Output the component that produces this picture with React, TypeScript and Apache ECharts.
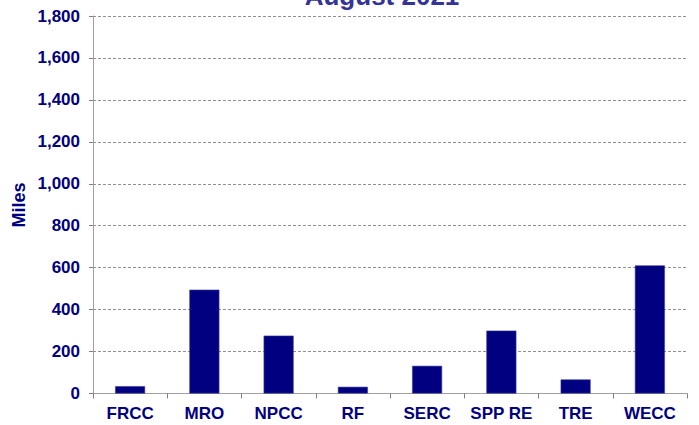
import React, { useEffect, useRef } from "react";
import * as echarts from "echarts";

const categories = ["FRCC", "MRO", "NPCC", "RF", "SERC", "SPP RE", "TRE", "WECC"];
const miles = [35, 495, 276, 32, 132, 300, 67, 611];
const titleText = "August 2021";
const yAxisTitle = "Miles";

export default function App() {
  const ref = useRef<HTMLDivElement>(null);
  useEffect(() => {
    if (!ref.current) return;
    const chart = echarts.init(ref.current, null, { renderer: "svg" });
    const labelFont = {
      fontFamily: "Arial, 'Liberation Sans', sans-serif",
      fontWeight: "bold" as const,
      fontSize: 17,
      color: "#000080",
    };
    chart.setOption({
      animation: false,
      backgroundColor: "#ffffff",
      grid: { left: 93, right: 12, top: 16, bottom: 31.5, containLabel: false },
      graphic: [
        {
          type: "text",
          x: 382,
          y: -4,
          style: {
            text: titleText,
            align: "center",
            verticalAlign: "middle",
            fontFamily: "Arial, 'Liberation Sans', sans-serif",
            fontWeight: "bold",
            fontSize: 26,
            fill: "#333399",
          },
        },
        {
          type: "text",
          x: 19,
          y: 205,
          rotation: Math.PI / 2,
          style: {
            text: yAxisTitle,
            align: "center",
            verticalAlign: "middle",
            fontFamily: "Arial, 'Liberation Sans', sans-serif",
            fontWeight: "bold",
            fontSize: 18,
            fill: "#000080",
          },
        },
      ],
      xAxis: {
        type: "category",
        data: categories,
        boundaryGap: true,
        axisLine: { lineStyle: { color: "#a0a0a0", width: 1 } },
        axisTick: { show: true, length: 5, interval: 0, lineStyle: { color: "#808080" }, alignWithLabel: false },
        axisLabel: { ...labelFont, margin: 11, lineHeight: 17, interval: 0 },
        splitLine: { show: false },
      },
      yAxis: {
        type: "value",
        min: 0,
        max: 1800,
        interval: 200,
        axisLine: { show: true, lineStyle: { color: "#a0a0a0", width: 1 } },
        axisTick: { show: true, length: 4, lineStyle: { color: "#808080" } },
        axisLabel: {
          ...labelFont,
          margin: 13,
          formatter: (v: number) => v.toLocaleString("en-US"),
        },
        splitLine: { show: true, lineStyle: { color: "#909090", type: [3, 2], width: 1 } },
      },
      series: [
        {
          type: "bar",
          data: miles,
          barWidth: 30,
          itemStyle: { color: "#000080", borderColor: "#3a3a9a", borderWidth: 0.6 },
        },
      ],
    });
    return () => chart.dispose();
  }, []);
  return <div ref={ref} style={{ width: 699, height: 425, position: "absolute", left: 0, top: 0 }} />;
}
